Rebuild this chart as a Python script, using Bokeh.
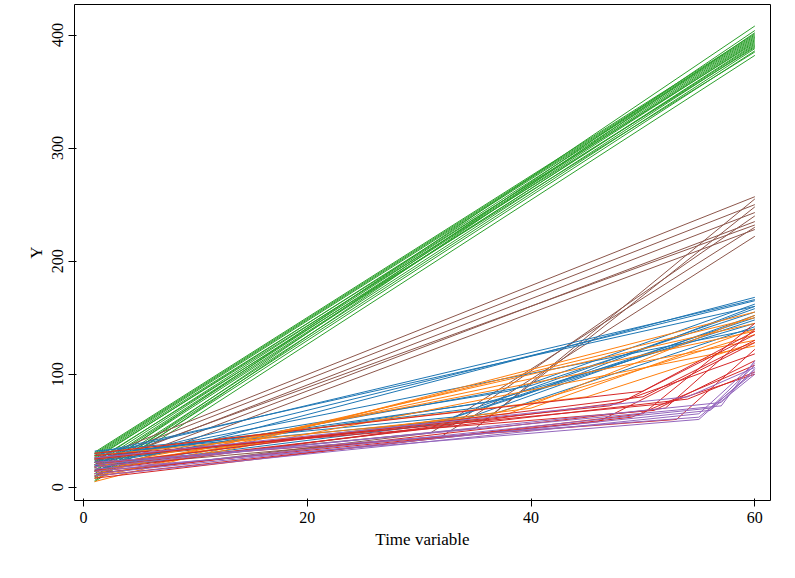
from bokeh.plotting import figure
from bokeh.models import Range1d, FixedTicker
from bokeh.embed import file_html
from bokeh.resources import INLINE

# each series: list of lines, each line = (x list, y list)
green_x = [[1, 60]] * 20
green_y = [[5, 382], [8, 386], [10, 388], [12, 390], [15, 392], [18, 394], [20, 395],
           [22, 396], [25, 397], [28, 398], [30, 400], [6, 402], [9, 404], [14, 408],
           [23, 385], [26, 389], [27, 393], [29, 399], [31, 401], [17, 391]]

brown_x = [[1, 60], [1, 60], [1, 60], [1, 60], [1, 60], [1, 60],
           [1, 31, 60], [1, 33, 60], [1, 35, 60], [1, 36, 60], [1, 32, 60]]
brown_y = [[10, 228], [14, 235], [18, 243], [22, 250], [25, 257], [20, 232],
           [12, 48, 230], [16, 55, 240], [20, 52, 248], [24, 60, 255], [18, 45, 222]]

blue_x = [[1, 60], [1, 60], [1, 60], [1, 38, 60], [1, 35, 60], [1, 40, 60], [1, 33, 60],
          [1, 31, 60], [1, 36, 60], [1, 60], [1, 34, 60], [1, 39, 60], [1, 60], [1, 37, 60]]
blue_y = [[15, 168], [22, 165], [30, 160], [25, 85, 162], [28, 70, 158], [20, 90, 155],
          [32, 62, 150], [18, 55, 148], [26, 75, 145], [24, 140], [30, 60, 152],
          [22, 80, 160], [28, 166], [19, 66, 142]]

orange_x = [[1, 60], [1, 60], [1, 60], [1, 40, 60], [1, 35, 60], [1, 60],
            [1, 45, 60], [1, 60], [1, 38, 60], [1, 60]]
orange_y = [[5, 155], [8, 150], [12, 145], [20, 70, 140], [25, 60, 135], [18, 130],
            [30, 80, 128], [10, 125], [28, 65, 152], [14, 138]]

red_x = [[1, 50, 60], [1, 52, 60], [1, 48, 60], [1, 50, 60], [1, 53, 60], [1, 47, 60],
         [1, 51, 60], [1, 49, 60], [1, 54, 60], [1, 50, 60], [1, 46, 60], [1, 52, 60]]
red_y = [[8, 65, 145], [12, 70, 140], [15, 75, 135], [20, 80, 130], [22, 60, 122],
         [25, 72, 118], [28, 68, 112], [10, 62, 108], [18, 78, 102], [30, 85, 138],
         [14, 58, 128], [26, 74, 100]]

purple_x = [[1, 55, 60], [1, 56, 60], [1, 57, 60], [1, 55, 60], [1, 54, 60],
            [1, 56, 60], [1, 57, 60], [1, 55, 60]]
purple_y = [[10, 65, 110], [14, 70, 108], [18, 75, 105], [22, 62, 102], [26, 80, 106],
            [12, 68, 100], [20, 72, 112], [16, 60, 104]]

series = [(green_x, green_y, "#2ca02c"), (brown_x, brown_y, "#8c564b"),
          (blue_x, blue_y, "#1f77b4"), (orange_x, orange_y, "#ff7f0e"),
          (red_x, red_y, "#d62728"), (purple_x, purple_y, "#9467bd")]

p = figure(width=779, height=560, output_backend="svg", toolbar_location=None,
           x_range=Range1d(-0.8, 61.4), y_range=Range1d(-11.7, 427),
           min_border_left=74, min_border_right=9, min_border_top=4, min_border_bottom=60)
for xs, ys, c in series:
    p.multi_line(xs, ys, line_color=c, line_width=1)

p.xgrid.visible = False
p.ygrid.visible = False
p.outline_line_color = "black"
p.xaxis.ticker = FixedTicker(ticks=[0, 20, 40, 60])
p.yaxis.ticker = FixedTicker(ticks=[0, 100, 200, 300, 400])
p.yaxis.major_label_orientation = "vertical"
p.xaxis.axis_label = "Time variable"
p.yaxis.axis_label = "Y"
for ax in (p.xaxis, p.yaxis):
    ax.major_label_text_font = "Liberation Serif"
    ax.axis_label_text_font = "Liberation Serif"
    ax.major_label_text_font_size = "16px"
    ax.axis_label_text_font_size = "17px"
    ax.axis_label_text_font_style = "normal"
    ax.axis_label_text_color = "black"
    ax.minor_tick_line_color = None
    ax.axis_line_color = None
    ax.major_tick_line_color = "black"
    ax.major_label_text_color = "black"
    ax.axis_label_standoff = 4

open("out.html", "w").write(file_html(p, INLINE))
